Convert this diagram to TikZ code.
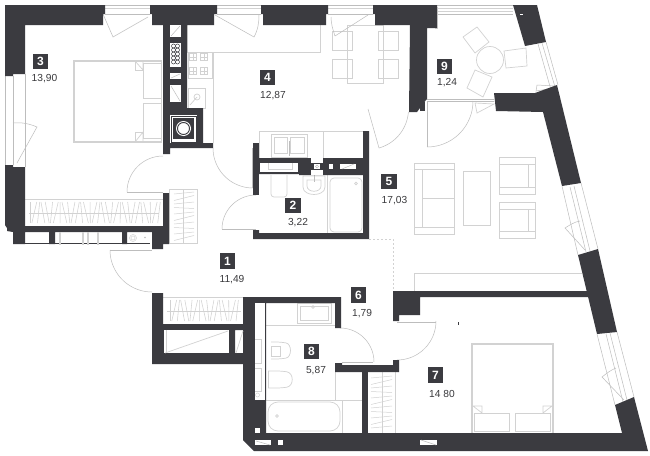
\documentclass[tikz,border=0pt]{standalone}
\usepackage{fontspec}
\setmainfont{Liberation Sans}
\definecolor{wallc}{HTML}{3B3B40}
\definecolor{fixc}{HTML}{D2D2D2}
\definecolor{winc}{HTML}{BDBDBD}
\definecolor{txtc}{HTML}{3A3A3D}
\tikzset{
  wall/.style={fill=wallc,draw=none},
  fix/.style={draw=fixc,line width=0.7pt,fill=none},
  fixb/.style={draw=fixc,line width=1.1pt,fill=none},
  win/.style={draw=winc,line width=0.5pt,fill=none},
  doorline/.style={draw=winc,line width=0.5pt,fill=none},
  hole/.style={fill=white,draw=none},
  faint/.style={draw=fixc,line width=0.6pt,dash pattern=on 2pt off 2pt},
  numbox/.style={fill=wallc,text=white,minimum width=15.5pt,minimum height=15.5pt,inner sep=0pt,font=\fontsize{12}{12}\selectfont\bfseries},
  areatext/.style={text=txtc,inner sep=0pt,font=\fontsize{10.2}{12}\selectfont},
}
\newcommand\swing[5]{\draw[doorline] plot[domain=#4:#5,samples=24] ({#1+#3*cos(\x)},{#2+#3*sin(\x)});}
\newcommand\room[6]{\node[numbox] (n#1) at (#2,#3) {#1};\node[areatext] (a#1) at (#5,#6) {#4};}
\begin{document}
\begin{tikzpicture}[x=1pt,y=-1pt]
\useasboundingbox (0,0) rectangle (650,455);
\fill[white] (0,0) rectangle (650,455);

% ---------- fixtures: kitchen
\draw[fix] (187,25) -- (187,52) -- (320,52) -- (320,25);
\draw[fix] (187,52) -- (213,52) -- (213,143);
\draw[fix] (188,52) rectangle (212,78);
\foreach \bx/\by in {193/57,204/57,193/71,204/71}{
  \draw[fix,line width=0.4pt] (\bx-3.5,\by-3.5) rectangle (\bx+3.5,\by+3.5);
  \draw[fix,line width=0.4pt] (\bx,\by-3.5) -- (\bx,\by+3.5) (\bx-3.5,\by) -- (\bx+3.5,\by);
}
\draw[fix] (188,88) rectangle (205,108);
\draw[fix] (197,97) circle (3);
\draw[fix] (190,105) -- (197,97);
% dining
\draw[fix] (347,25) rectangle (383,83);
\foreach \cx/\cy in {332/31,378/31,332/59,378/59}{
  \draw[fix] (\cx,\cy) rectangle (\cx+20,\cy+19);
}
% kitchen counter
\draw[fix] (259,131) rectangle (363,158);
\draw[fix] (323,131) -- (323,158);
\draw[fix] (271,134) rectangle (307,157);
\draw[fix] (274,137) rectangle (287.5,153);
\draw[fix] (290,137) rectangle (304,153);
\draw[draw=winc,line width=1pt] (289,141) -- (289,156);
% bed 3
\draw[fixb] (74,61) rectangle (161,142);
\draw[fix] (143,61) -- (143,142);
\fill[white] (143,62) rectangle (160.5,141);
\draw[fix] (143,63) rectangle (161,98);
\draw[fix] (143,103) rectangle (161,138);
\draw[fix] (135,61) -- (143,70) -- (143,61);
\draw[fix] (135,142) -- (143,132) -- (143,142);
\draw[fix] (135,61) -- (135,70) -- (143,70);
\draw[fix] (135,142) -- (135,132) -- (143,132);
% wardrobe 3
\draw[fix] (25,199) -- (163,199);
\draw[fix,line width=0.5pt] (29,213) -- (159,213);
\foreach \i in {0,...,30}{
  \draw[fix,line width=0.55pt] ({30+\i*4.3+2.5*sin(\i*77)},202) -- ({30+\i*4.3-2.5*sin(\i*77)},223);
}
% wardrobe by door 3
\draw[fix] (169,189) rectangle (197,243);
\draw[fix] (183,189) -- (183,243);
\foreach \i in {0,...,9}{
  \draw[fix,line width=0.5pt] (174,{194+\i*5+1.5*sin(\i*90)}) -- (194,{192+\i*5-1.5*sin(\i*90)});
}
% wardrobe lower hall
\draw[fix] (163,297) -- (243,297);
\draw[fix,line width=0.5pt] (167,311) -- (241,311);
\foreach \i in {0,...,16}{
  \draw[fix,line width=0.55pt] ({170+\i*4.2+2.5*sin(\i*77)},300) -- ({170+\i*4.2-2.5*sin(\i*77)},321);
}
% bath 2
\draw[fix,rounded corners=3pt] (271,175) -- (271,197) -- (287,197) -- (287,175);
\draw[fix] (303,176) -- (303,187) .. controls (303,197) and (325,197) .. (325,187) -- (325,176) -- cycle;
\draw[fix] (307,180) -- (307,186) .. controls (307,193) and (321,193) .. (321,186) -- (321,180) -- cycle;
\draw[draw=winc,line width=0.8pt] (314,175) -- (314,182);
\draw[fix] (327,175) -- (327,233);
\draw[fix,rounded corners=4pt] (330,178) rectangle (362,232);
\draw[fix] (356,183.5) circle (1.3);
% bath 8
\draw[fix] (266,325) -- (336,325);
\draw[fix] (297,303) rectangle (331,323);
\draw[fix] (300,306) rectangle (328,320);
\draw[fix] (313,307) circle (1.3);
\draw[fix,rounded corners=5pt] (271,342) -- (281,342) .. controls (292,344) and (292,357) .. (281,359) -- (271,359);
\draw[fix] (271,346) rectangle (280,356);
\draw[fix,rounded corners=5pt] (268,371) -- (282,371) .. controls (294,373) and (294,386) .. (282,388) -- (268,388);
\draw[fix] (268,371) -- (268,388);
\draw[fix] (266,400) -- (342,400) -- (342,433);
\draw[fix,rounded corners=10pt] (268,402) rectangle (340,431);
\draw[fix] (277,416) circle (1.3);
\draw[fix] (335,372) -- (335,400) (335,400) -- (362,400);
% wardrobe 7
\draw[fix] (395,372) -- (395,433);
\draw[fix] (382,372) -- (382,433);
\foreach \i in {0,...,10}{
  \draw[fix,line width=0.5pt] (371,{378+\i*5+1.5*sin(\i*90)}) -- (392,{376+\i*5-1.5*sin(\i*90)});
}
% bed 7
\draw[fixb] (472,433) -- (472,344) -- (553,344) -- (553,433);
\draw[fix] (474,413) rectangle (509,431);
\draw[fix] (515,413) rectangle (550,431);
\draw[fix] (473,406) -- (482,413) -- (482,406) -- cycle;
\draw[fix] (552,406) -- (543,413) -- (543,406) -- cycle;
% sofa, table, armchairs
\draw[fix] (414,163) rectangle (454,234);
\draw[fix] (414,169) -- (454,169) (414,227) -- (454,227) (422,169) -- (422,227) (422,198) -- (454,198);
\draw[fix] (463,171) rectangle (490,225);
\draw[fix] (499,157) rectangle (535,194);
\draw[fix] (499,164) -- (535,164) (499,187) -- (535,187) (528,164) -- (528,187);
\draw[fix] (499,202) rectangle (535,238);
\draw[fix] (499,209) -- (535,209) (499,231) -- (535,231) (528,209) -- (528,231);
% balcony furniture
\draw[fix] (490,60) circle (13.5);
\draw[fix] (463,37) -- (477,27) -- (489,42) -- (475,53) -- cycle;
\draw[fix] (504,51) -- (526,48) -- (527,66) -- (506,68) -- cycle;
\draw[fix] (475,70) -- (492,77) -- (483,97) -- (467,88) -- cycle;
% zone borders
\draw[faint] (369,239) -- (393,239) -- (393,291);
\draw[fix,line width=0.5pt] (414,273) -- (582,273);
\draw[fix,line width=0.5pt] (414,273) -- (414,291);

% ---------- windows
\foreach \a/\b in {105/150,217/261,328/373}{
  \draw[win] (\a,5) -- (\b,5) (\a,14) -- (\b,14);
  \draw[fix,line width=0.5pt] (\a,8) -- (\b,8);
}
\draw[win] (103,14) -- (113,37) -- (148,17);
\draw[win] (215,15) -- (254,37);
\draw[win] (254,37) .. controls (258,30) and (259,22) .. (259,15);
\draw[win] (331,17) .. controls (331,24) and (333,30) .. (335,36);
\draw[win] (335,36) -- (368,15);
% left window
\draw[win] (5,76) -- (5,165) (13,76) -- (13,165) (25,74) -- (25,167);
\draw[win] (13,123) .. controls (22,122) and (30,124) .. (37,127) -- (17,163);
% balcony window
\draw[win] (437,5) -- (513,5) (437,14) -- (513,14);
\draw[fix,line width=0.6pt] (437,8) -- (513,8) (437,11.5) -- (513,11.5);
\draw[fix,line width=1pt] (435,7) rectangle (437,28);
\draw[win] (538,44) -- (551,90) (542,43) -- (555,87) (546,42) -- (558,85);
\draw[win] (537,85) -- (555,86) -- (554,88) -- (536,91) -- cycle;
% living window
\draw[win] (562,186) -- (578,255) (581,183) -- (598,249);
\draw[win] (570,187) -- (586,252) (574,186) -- (590,251);
\draw[win] (585,250) -- (565,228) .. controls (570,225) and (574,222) .. (580,221);
% bedroom window
\draw[win] (597,334) -- (615,405) (617,332) -- (634,397);
\draw[win] (606,334) -- (623,402) (610,333) -- (627,400);
\draw[win] (624,400) -- (602,377) .. controls (607,373) and (611,370) .. (616,368);
% ---------- doors
\draw[doorline] (368,109) -- (379,148);
\swing{368}{109}{40.5}{4}{74}
\draw[doorline] (222,229) -- (256,229);
\swing{256}{229}{34}{180}{270}
\draw[doorline] (127,192) -- (163,192);
\swing{163}{192}{36}{180}{270}
\draw[doorline] (110,250) -- (152,250);
\swing{152}{250}{42}{90}{180}
\draw[doorline] (252,148) -- (252,188);
\swing{253}{148}{40}{90}{180}
\draw[doorline] (427,102) -- (427,147);
\swing{427}{101}{46}{0}{90}
\draw[doorline] (427,99) -- (494,99) (427,101) -- (494,101);
\draw[fix] (475,103) -- (494,104) -- (477,113) -- cycle;
\draw[doorline] (342,362) -- (373,362);
\swing{340}{362}{34}{270}{360}
\draw[doorline] (397,322) -- (436,322);
\swing{397}{321}{39}{0}{90}

% ---------- walls
\fill[wall] (5,5) -- (105,5) -- (105,14) -- (103,14) -- (103,25) -- (25,25) -- (25,74) -- (13,74) -- (13,76) -- (5,76) -- cycle;
\fill[wall] (150,5) -- (217,5) -- (217,14) -- (214,14) -- (214,25) -- (187,25) -- (187,108) -- (203,108) -- (203,143) -- (213,143) -- (213,148) -- (170,148) -- (170,154) -- (163,154) -- (163,25) -- (152,25) -- (152,14) -- (150,14) -- cycle;
\fill[wall] (261,5) -- (328,5) -- (328,14) -- (326,14) -- (326,25) -- (263,25) -- (263,14) -- (261,14) -- cycle;
\fill[wall] (373,5) -- (437,5) -- (437,28) -- (427,28) -- (427,99) -- (426,100) -- (417,112) -- (409,112) -- (410,25) -- (375,25) -- (375,14) -- (373,14) -- cycle;
\fill[wall] (420,102) rectangle (425,111);
\fill[wall] (513,5) -- (537,5) -- (546,42) -- (525,46) -- cycle;
\fill[wall] (494,93) -- (535,93) -- (557,85) -- (581,183) -- (562,186) -- (543,112) -- (496,111) -- cycle;
\fill[wall] (578,255) -- (598,249) -- (617,332) -- (597,334) -- cycle;
\fill[wall] (615,405) -- (634,397) -- (648,451) -- (254,451) -- (243,440) -- (243,297) -- (341,297) -- (341,328) -- (335,328) -- (335,303) -- (266,303) -- (266,433) -- (622,433) -- cycle;
\fill[wall] (393,291) -- (588,291) -- (589,297) -- (420,297) -- (420,315) -- (399,315) -- (399,321) -- (393,321) -- cycle;
\fill[wall] (335,363) -- (342,363) -- (342,365) -- (393,365) -- (393,360) -- (399,360) -- (399,372) -- (342,372) -- (335,372) -- cycle;
\fill[wall] (362,372) rectangle (368,433);
% left wall, lower
\fill[wall] (5,165) -- (13,165) -- (13,167) -- (25,167) -- (25,226) -- (163,226) -- (163,193) -- (169,193) -- (169,244) -- (163,244) -- (163,249) -- (152,249) -- (152,232) -- (127,232) -- (127,244) -- (122,244) -- (122,232) -- (55,232) -- (55,244) -- (49,244) -- (49,232) -- (25,232) -- (25,244) -- (13,244) -- (13,232) -- (7,231) -- (7,228) -- (5,225) -- cycle;
\draw[draw=wallc,line width=0.8pt] (25,243.6) -- (150,243.6);
\fill[fix] (59,232) rectangle (60,244);
\fill[fix] (82,232) rectangle (83,244);
\fill[fix] (87,232) rectangle (88,244);
\fill[fix] (97,232) rectangle (98,244);
\draw[fix,line width=0.5pt] (133,238) circle (3.5) (133,238) circle (2);
\fill[winc] (145,237.5) circle (0.8);
% lower-left storage
\fill[wall] (152,293) -- (163,293) -- (163,324) -- (243,324) -- (243,330) -- (235,330) -- (235,353) -- (243,353) -- (243,364) -- (152,364) -- cycle;
\fill[hole] (164,330) rectangle (229,353);
\draw[fix] (165,353) -- (228,331);
\draw[fix] (166,330) -- (166,353);
\fill[wall] (229,330) rectangle (235,353);
\draw[fix] (236,353) -- (243,331);
% bath-2 walls
\fill[wall] (253,143) rectangle (259,195);
\fill[wall] (253,230) -- (259,230) -- (259,233) -- (363,233) -- (363,131) -- (369,131) -- (369,239) -- (253,239) -- cycle;
\fill[wall] (259,158) -- (363,158) -- (363,175) -- (299,175) -- (299,174) -- (259,174) -- cycle;
\fill[hole] (260,163) rectangle (298,172);
\draw[fix] (268,163) -- (268,169) -- (292,169) -- (292,163);
\fill[hole] (311,158) rectangle (323,175);
\fill[wall] (311,163) rectangle (323,170);
\fill[hole] (314,164) rectangle (320,169);
\draw[winc,line width=0.5pt] (317,166.5) circle (1.6);
\fill[hole] (329,164) rectangle (333,169);
\fill[hole] (340,164) rectangle (356,169);
\draw[win] (342,169) -- (354,164);
% shaft holes in kitchen wall
\fill[hole] (170,25) rectangle (181,37);
\draw[win] (171,36) -- (180,26);
\fill[hole] (170,43) rectangle (181,67);
\foreach \cx/\cy in {173.5/46,177.5/46,173.5/50,177.5/50,173.5/54,177.5/54,173.5/58,177.5/58,173.5/62,177.5/62}{
  \draw[wallc,line width=0.5pt] (\cx,\cy) circle (2);
}
\fill[hole] (170,73) rectangle (181,79);
\draw[win] (171,78) -- (180,74);
\fill[hole] (170,85) rectangle (181,102);
\draw[win] (171,86) -- (180,101);
% flue
\fill[hole] (170,115) rectangle (197,143);
\draw[wallc,line width=0.6pt] (171,116) rectangle (196,142);
\fill[wall] (173,118) rectangle (194,139);
\fill[white] (183.5,128.5) circle (7.5);
\draw[wallc,line width=0.9pt] (183.5,128.5) circle (6);
% shaft in bath 8
\fill[hole] (255,303) rectangle (265,400);
\draw[draw=wallc,line width=0.6pt] (265.5,303) -- (265.5,400);
\draw[fix] (255,339) -- (261,339) -- (261,363) -- (255,363);
\draw[fix] (255,368) -- (261,368) -- (261,391) -- (255,391);
\draw[fix,line width=0.5pt] (257.5,395) circle (2);
\fill[hole] (255,428) rectangle (260,433);
\fill[hole] (255,440) rectangle (271,445);
\draw[win] (256,441) -- (270,445);
\fill[hole] (278,440) rectangle (283,445);
\fill[hole] (420,440) rectangle (437,445);
\draw[win] (421,440) -- (436,445);
\fill[wallc] (458,322) rectangle (459,325);
\fill[hole] (520,14) rectangle (523,15);

% ---------- labels
\room{1}{227.5}{261}{11,49}{232}{280}
\room{2}{293}{205.5}{3,22}{298}{223}
\room{3}{40.5}{61.5}{13,90}{44.5}{79}
\room{4}{267.5}{77.5}{12,87}{273}{96}
\room{5}{389}{181.5}{17,03}{394.5}{201}
\room{6}{358.5}{295}{1,79}{362}{314}
\room{7}{435.5}{375}{14 80}{442}{394}
\room{8}{311.5}{351.5}{5,87}{316}{371}
\room{9}{444.5}{66.5}{1,24}{447}{83}
\end{tikzpicture}
\end{document}
